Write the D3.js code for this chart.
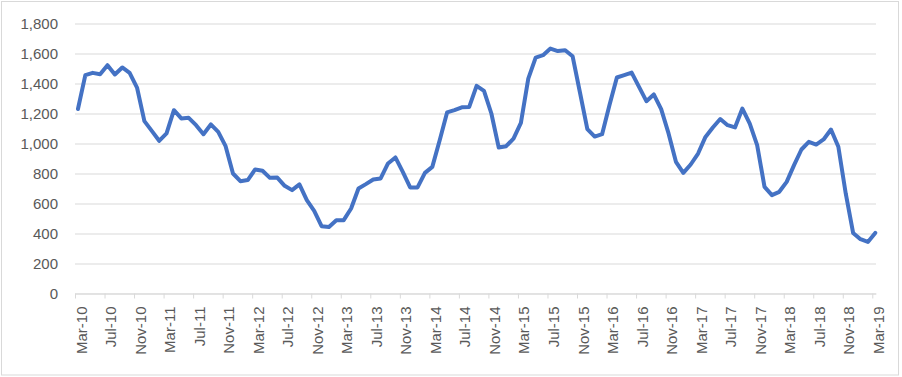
<!DOCTYPE html>
<html>
<head>
<meta charset="utf-8">
<script src="https://cdn.jsdelivr.net/npm/d3@7"></script>
<style>
  body { margin: 0; background: #fff; }
  svg { display: block; font-family: "Liberation Sans", Arial, sans-serif; }
</style>
</head>
<body>
<div id="root"><svg width="902" height="377"></svg></div>
<script>
// monthly values, Mar-10 .. Mar-19
const values = [
  1230, 1456, 1471, 1462, 1522, 1460, 1507, 1471, 1373, 1149,
  1084, 1018, 1067, 1222, 1167, 1171, 1122, 1062, 1127, 1078,
  982, 800, 749, 756, 827, 818, 771, 773, 718, 689,
  727, 622, 551, 449, 444, 489, 489, 567, 700, 729,
  760, 767, 867, 907, 811, 707, 707, 804, 844, 1022,
  1207, 1222, 1241, 1244, 1384, 1351, 1200, 973, 982, 1033,
  1138, 1433, 1573, 1589, 1633, 1616, 1622, 1582, 1340, 1096,
  1046, 1062, 1256, 1440, 1456, 1473, 1378, 1282, 1327, 1229,
  1067, 878, 804, 860, 933, 1044, 1107, 1163, 1122, 1107,
  1233, 1133, 989, 711, 656, 678, 744, 856, 960, 1011,
  993, 1027, 1093, 978, 667, 404, 362, 344, 404
];
const tickLabels = [
  'Mar-10', 'Jul-10', 'Nov-10', 'Mar-11', 'Jul-11', 'Nov-11', 'Mar-12', 'Jul-12',
  'Nov-12', 'Mar-13', 'Jul-13', 'Nov-13', 'Mar-14', 'Jul-14', 'Nov-14', 'Mar-15',
  'Jul-15', 'Nov-15', 'Mar-16', 'Jul-16', 'Nov-16', 'Mar-17', 'Jul-17', 'Nov-17',
  'Mar-18', 'Jul-18', 'Nov-18', 'Mar-19'
];
const yTicks = [0, 200, 400, 600, 800, 1000, 1200, 1400, 1600, 1800];

const svg = d3.select('#root svg');
const gridColor = '#d9d9d9';
const textColor = '#595959';

// chart border
svg.append('rect')
  .attr('x', 1.5).attr('y', 1.5)
  .attr('width', 897).attr('height', 373.5)
  .attr('fill', 'none')
  .attr('stroke', gridColor);

const xScale = d3.scaleLinear().domain([0, 108.5]).range([75, 876]);
const yScale = d3.scaleLinear().domain([0, 1800]).range([293.5, 23.5]);

// gridlines + y labels
const yAxis = d3.axisLeft(yScale)
  .tickValues(yTicks)
  .tickSize(-(876 - 75))
  .tickPadding(17)
  .tickFormat(d3.format(','));
svg.append('g')
  .attr('id', 'y_axis_g')
  .attr('transform', 'translate(75 0)')
  .call(yAxis)
  .call((g) => g.select('.domain').remove())
  .call((g) => g.selectAll('.tick line').attr('stroke', gridColor).attr('stroke-width', 1))
  .call((g) => g.selectAll('.tick text')
    .attr('fill', textColor)
    .attr('font-size', '15px')
    .attr('font-family', '"Liberation Sans", Arial, sans-serif'));

// x axis, a tick every 4 months
const xAxis = d3.axisBottom(xScale)
  .tickValues(tickLabels.map((d, i) => i * 4))
  .tickSize(5)
  .tickSizeOuter(0)
  .tickFormat((d, i) => tickLabels[i]);
svg.append('g')
  .attr('id', 'x_axis_g')
  .attr('transform', 'translate(0 293.5)')
  .call(xAxis)
  .call((g) => g.select('.domain').attr('stroke', gridColor))
  .call((g) => g.selectAll('.tick line').attr('stroke', gridColor))
  .call((g) => g.selectAll('.tick text')
    .attr('fill', textColor)
    .attr('font-size', '15px')
    .attr('font-family', '"Liberation Sans", Arial, sans-serif')
    .attr('text-anchor', 'end')
    .attr('dy', null)
    .attr('y', null)
    .attr('transform', 'translate(11 13) rotate(-90)'));

// the series, each month sits a little after its tick
const line = d3.line()
  .x((d, i) => xScale(i + 0.4))
  .y((d) => yScale(d));

svg.append('path')
  .datum(values)
  .attr('d', line)
  .attr('fill', 'none')
  .attr('stroke', '#4472c4')
  .attr('stroke-width', 4)
  .attr('stroke-linejoin', 'round')
  .attr('stroke-linecap', 'round');
</script>
</body>
</html>
